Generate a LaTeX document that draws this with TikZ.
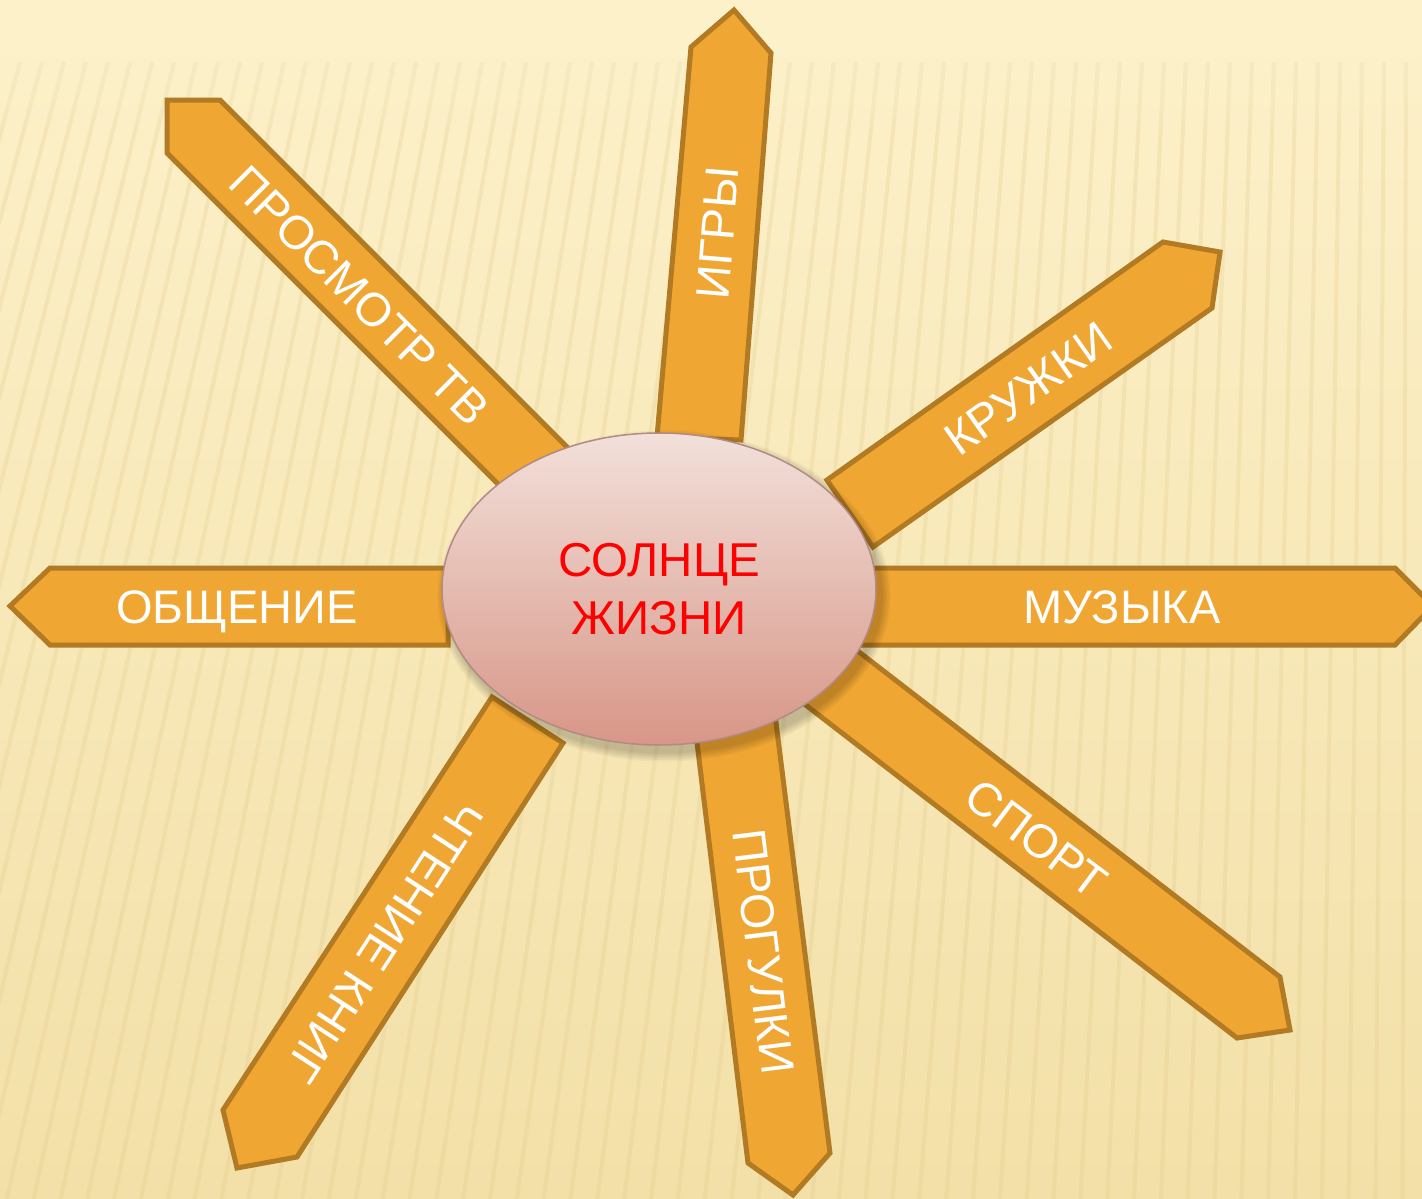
\documentclass[tikz,border=0pt]{standalone}
\usepackage{fontspec}
\setmainfont{Liberation Sans}
\usetikzlibrary{shapes.geometric}
\definecolor{rayfill}{RGB}{240,166,50}
\definecolor{rayedge}{RGB}{178,122,34}
\definecolor{bgtop}{RGB}{253,241,202}
\definecolor{bgbot}{RGB}{243,224,168}
\definecolor{stripe}{RGB}{222,196,128}
\definecolor{suntop}{RGB}{242,224,218}
\definecolor{sunbot}{RGB}{216,150,135}
\definecolor{sunedge}{RGB}{178,138,136}
\tikzset{
  sunray/.style={fill=rayfill, draw=rayedge, line width=5, line join=miter},
  raylabel/.style={text=white, font=\fontsize{47}{47}\selectfont, inner sep=0pt,
    text height=34pt, text depth=0pt},
  stripeline/.style={draw=stripe, line width=4, opacity=0.22},
}
\begin{document}
\begin{tikzpicture}[x=1pt,y=-1pt]
\useasboundingbox (0,0) rectangle (1422,1199);
\begin{scope}
\clip (0,0) rectangle (1422,1199);
% background
\fill[top color=bgtop, bottom color=bgbot] (0,0) rectangle (1422,1199);
\foreach \x in {-420,-398,...,1440} {
  \draw[stripeline] (\x,62) -- ({\x-0.22*(1422-\x)},1199);
}
\fill[bgtop] (0,0) rectangle (1422,58);
\foreach \i in {0,...,7} {
  \fill[bgtop, opacity=0.12] (0,58) rectangle (1422,{58+10*\i});
}
% rays
\draw[sunray] (448,568) -- (50,568) -- (10,606) -- (50,645) -- (448,645) -- cycle;
\draw[sunray] (700,568) -- (1395,568) -- (1433,606) -- (1395,645) -- (700,645) -- cycle;
\draw[sunray] (657,437) -- (691,47) -- (734,10) -- (771,53) -- (741,440) -- cycle;
\draw[sunray] (620,500) -- (220,100) -- (167,100) -- (167,153) -- (567,553) -- cycle;
\draw[sunray] (827,480) -- (1163,242) -- (1220,252) -- (1212,308) -- (873,547) -- cycle;
\draw[sunray] (837,635) -- (1280,977) -- (1290,1030) -- (1237,1038) -- (794,696) -- cycle;
\draw[sunray] (679,594) -- (748,1163) -- (793,1195) -- (830,1153) -- (758,579) -- cycle;
\draw[sunray] (492,697) -- (223,1110) -- (237,1168) -- (297,1157) -- (563,743) -- cycle;
% labels
\node[raylabel] (talk) at (237,606) {ОБЩЕНИЕ};
\node[raylabel] (music) at (1122,606) {МУЗЫКА};
\node[raylabel, rotate=85.3] (games) at (717,233) {ИГРЫ};
\node[raylabel, rotate=-45] (tv) at (360,295) {ПРОСМОТР ТВ};
\node[raylabel, rotate=35.3] (clubs) at (1028,388) {КРУЖКИ};
\node[raylabel, rotate=-37] (sport) at (1037,838) {СПОРТ};
\node[raylabel, rotate=-83] (walks) at (764,952) {ПРОГУЛКИ};
\node[raylabel, rotate=-123] (books) at (385,942) {ЧТЕНИЕ КНИГ};
% shadow
\foreach \i in {1,...,6} {
  \fill[black, opacity=0.035] (664,596) ellipse ({217+\i*1.6} and {156+\i*1.6});
}
% sun
\node[ellipse, minimum width=434pt, minimum height=312pt, inner sep=0pt,
  top color=suntop, bottom color=sunbot, draw=sunedge, line width=1.5,
  text=red, align=center, font=\fontsize{47.5}{58}\selectfont] (sun) at (659,589)
  {СОЛНЦЕ\\ЖИЗНИ};
\end{scope}
\end{tikzpicture}
\end{document}
